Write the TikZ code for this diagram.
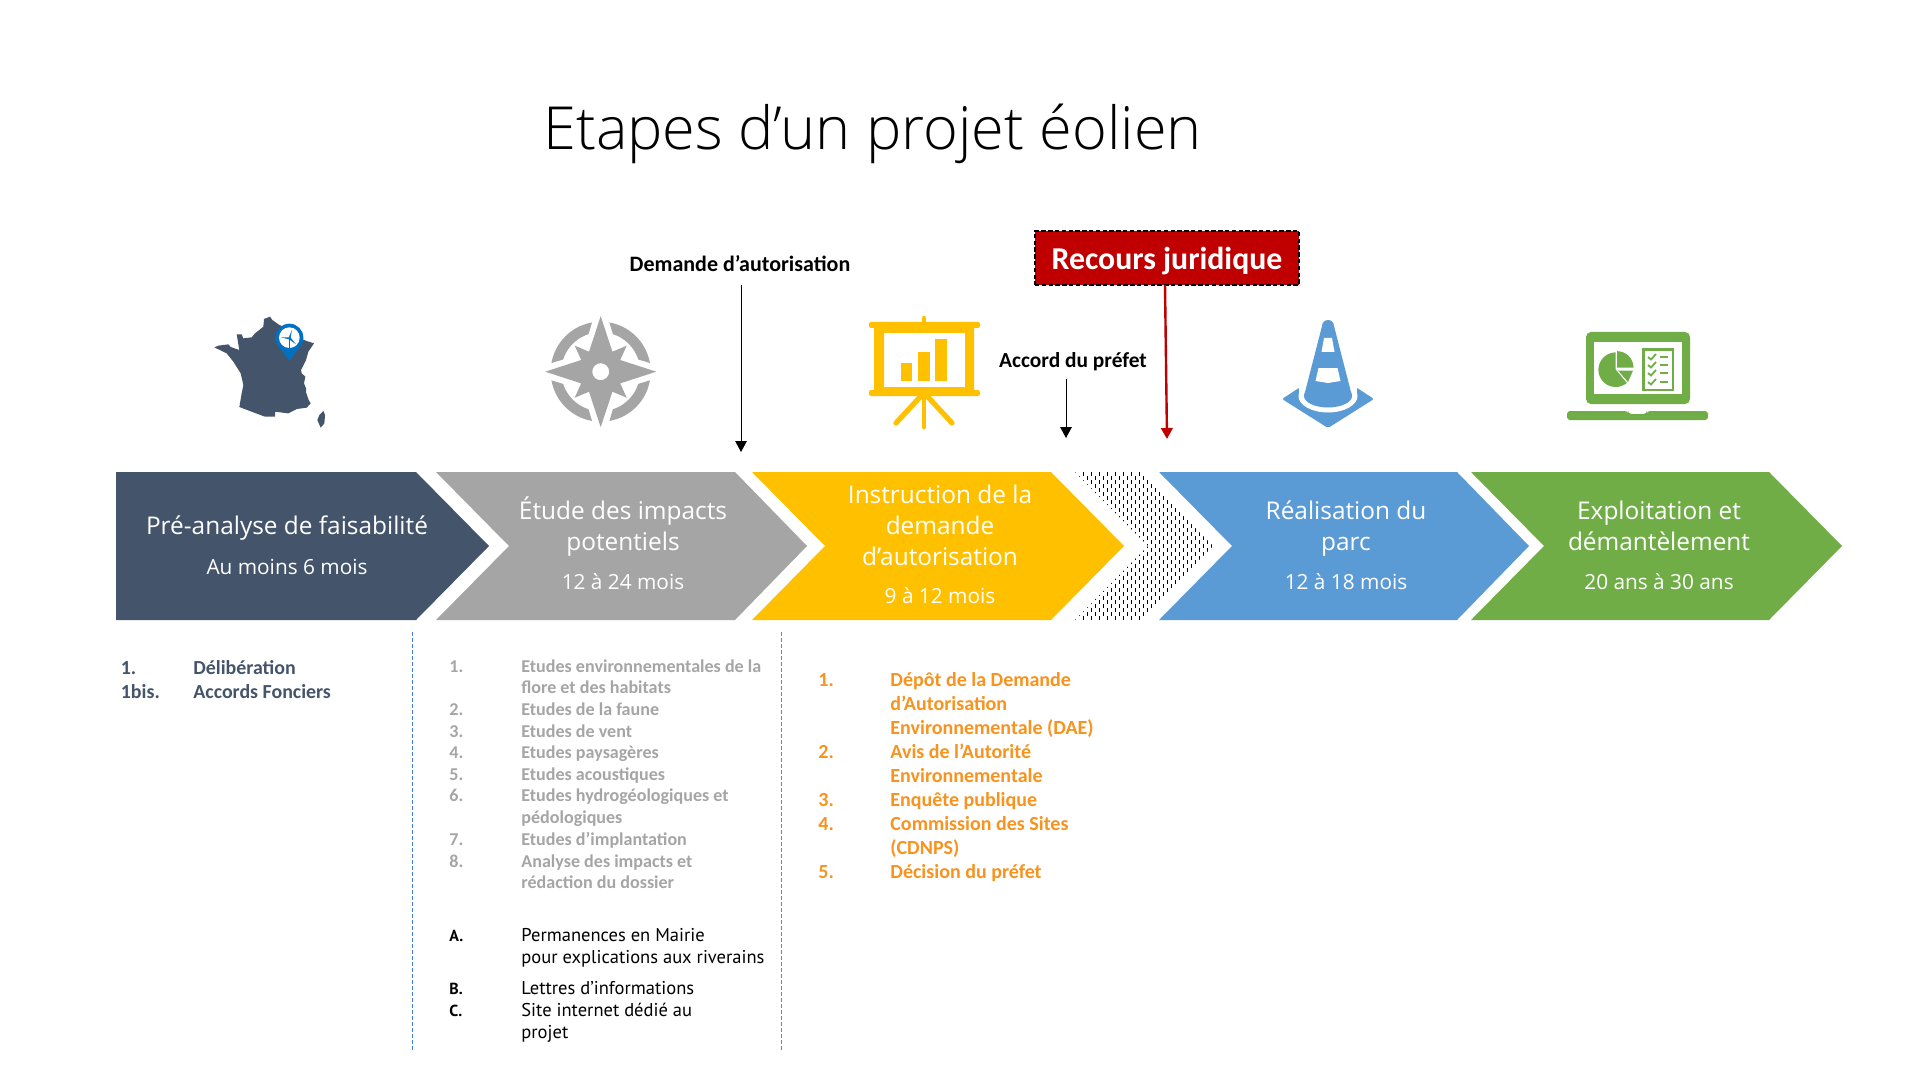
\documentclass[tikz,border=0pt]{standalone}
\usepackage{fontspec}
\setmainfont{Carlito}
\newfontfamily\uifont{Open Sans}
\newfontfamily\titlefont{Open Sans Light}
\newfontfamily\dinfont{PT Sans}
\definecolor{cdark}{HTML}{44546A}
\definecolor{cgray}{HTML}{A5A5A5}
\definecolor{cyel}{HTML}{FFC000}
\definecolor{cblue}{HTML}{5B9BD5}
\definecolor{cgreen}{HTML}{70AD47}
\definecolor{cred}{HTML}{C00000}
\definecolor{corange}{HTML}{F7931E}
\definecolor{cpin}{HTML}{0070C0}
\definecolor{cdash}{HTML}{3F7FDF}
\definecolor{cdashg}{HTML}{6E9E30}
\newcommand{\fs}[1]{\fontsize{#1}{#1}\selectfont}
\usetikzlibrary{arrows.meta}
\tikzset{
  x=0.5pt,y=-0.5pt,
  chev/.style={draw=none,fill=#1},
  ctitle/.style={text=white,font=\uifont\fs{12.2},inner sep=0,anchor=base},
  csub/.style={text=white,font=\uifont\fs{10.4},inner sep=0,anchor=base},
  item/.style={inner sep=0,anchor=base west,font=\bfseries\fs{#1}},
  din/.style={inner sep=0,anchor=base west,font=\dinfont\fs{9.26},text=black},
  dinb/.style={inner sep=0,anchor=base west,font=\dinfont\bfseries\fs{8},text=black},
  note/.style={inner sep=0,anchor=base,font=\bfseries\fs{#1},text=black},
  marker/.style={-{Triangle[length=5.5pt,width=5.8pt]},draw=#1,fill=#1},
  sep/.style={draw=#1,line width=0.5pt,dash pattern=on 2pt off 1pt},
}
\begin{document}
\begin{tikzpicture}
\useasboundingbox (0,0) rectangle (1920,1080);
\fill[white] (0,0) rectangle (1920,1080);
% title
\node[inner sep=0,anchor=base,font=\titlefont\fs{29.7}] (title) at (872.5,150) {Etapes d’un projet éolien};
% chevrons
\fill[chev=cdark] (116,472)--(416,472)--(489,546)--(416,620)--(116,620)--cycle;
\fill[chev=cgray] (436,472)--(735,472)--(807,546)--(735,620)--(436,620)--(509,546)--cycle;
\fill[chev=cyel] (752,472)--(1051,472)--(1124,546)--(1051,620)--(752,620)--(825,546)--cycle;
\begin{scope}
\clip (1075,472)--(1140,472)--(1213,546)--(1140,620)--(1075,620)--(1148,546)--cycle;
\foreach \i in {0,...,18}{
 \draw[black,line width=0.55pt,dash pattern=on 1.65pt off 2.35pt] ({1075.3+\i*8},472.3)--({1075.3+\i*8},620);
 \draw[black,line width=0.55pt,dash pattern=on 1.65pt off 2.35pt] ({1079.3+\i*8},468.3)--({1079.3+\i*8},620);
}
\end{scope}
\fill[chev=cblue] (1159,472)--(1457,472)--(1529,546)--(1457,620)--(1159,620)--(1232,546)--cycle;
\fill[chev=cgreen] (1471,472)--(1769,472)--(1842,546)--(1769,620)--(1471,620)--(1544,546)--cycle;
% chevron text
\node[ctitle] (c1a) at (287,534) {Pré-analyse de faisabilité};
\node[csub] (c1b) at (287,574) {Au moins 6 mois};
\node[ctitle] (c2a) at (623,519) {Étude des impacts};
\node[ctitle] (c2b) at (623,550) {potentiels};
\node[csub] (c2c) at (623,589) {12 à 24 mois};
\node[ctitle] (c3a) at (940,503) {Instruction de la};
\node[ctitle] (c3b) at (940,534) {demande};
\node[ctitle] (c3c) at (940,565) {d’autorisation};
\node[csub] (c3d) at (940,603) {9 à 12 mois};
\node[ctitle] (c4a) at (1346,519) {Réalisation du};
\node[ctitle] (c4b) at (1346,550) {parc};
\node[csub] (c4c) at (1346,589) {12 à 18 mois};
\node[ctitle] (c5a) at (1659,519) {Exploitation et};
\node[ctitle] (c5b) at (1659,550) {démantèlement};
\node[csub] (c5c) at (1659,589) {20 ans à 30 ans};
% notes + arrows
\node[note=11] (dem) at (740,272) {Demande d’autorisation};
\coordinate (demS) at (741,285); \coordinate (demE) at (741,452);
\draw[marker=black,line width=0.45pt] (demS)--(demE);
\node[note=10.7] (acc) at (1073,367) {Accord du préfet};
\coordinate (accS) at (1066,379); \coordinate (accE) at (1066,438);
\draw[marker=black,line width=0.45pt] (accS)--(accE);
\node[draw=black,fill=cred,line width=1pt,dash pattern=on 2.2pt off 1.2pt,minimum width=132pt,minimum height=27pt,inner sep=0] (rec) at (1167,258) {};
\node[inner sep=0,anchor=base,text=white,font=\bfseries\fs{15.9}] (rectxt) at (1167,270) {Recours juridique};
\coordinate (recS) at (1165,285); \coordinate (recE) at (1167,439);
\draw[marker=cred,line width=1.2pt] (recS)--(recE);
% France icon
\begin{scope}[shift={(200,305)},x=0.1667pt,y=-0.1667pt]
\fill[cdark] (43,127)--(55,122)--(85,118)--(92,126)--(118,135)--(110,88)--(125,88)--(130,100)--(155,97)--(165,85)--(190,65)--(192,42)--(210,35)--(217,45)--(235,58)--(270,75)--(300,100)--(320,108)--(342,115)--(325,140)--(318,165)--(303,195)--(305,205)--(316,215)--(312,235)--(318,250)--(318,262)--(326,285)--(332,295)--(320,308)--(290,312)--(265,325)--(225,320)--(225,335)--(195,335)--(160,322)--(118,306)--(125,265)--(130,240)--(122,205)--(100,170)--(80,145)--cycle;
\fill[cdark] (370,318)--(375,330)--(373,355)--(362,368)--(352,345)--(358,330)--cycle;
\fill[cpin] (231,118)--(268,167)--(305,118)--cycle;
\fill[cpin] (268,98) circle[radius=42];
\fill[white] (268,98) circle[radius=31];
\draw[cpin,line width=0.5pt] (268,130)--(268,102);
\fill[cpin] (266,98)--(276,74)--(271,101)--cycle;
\fill[cpin] (270,97)--(242,97)--(268,103)--cycle;
\fill[cpin] (266,102)--(288,118)--(271,97)--cycle;
\end{scope}
% compass icon
\begin{scope}[shift={(600.7,371.7)}]
\fill[cgray,even odd rule]
 (0,-55.5)--(11.7,-20)--(26,-26)--(19.5,-11.7)--(55.5,0)--(19.5,11.7)--(26,26)--(11.7,20)--(0,55.5)--(-11.7,20)--(-26,26)--(-19.5,11.7)--(-55.5,0)--(-19.5,-11.7)--(-26,-26)--(-11.7,-20)--cycle
 (0,0) circle[radius=8.5];
\foreach \a in {0,90,180,270}{
 \begin{scope}[rotate=\a]
 \fill[cgray] plot[domain=-80:-10,samples=15] (\x:50) -- plot[domain=-18:-72,samples=15] (\x:39.5) -- cycle;
 \end{scope}
}
\end{scope}
% presentation icon
\fill[cyel,rounded corners=1pt] (869,322) rectangle (980,328);
\fill[cyel,rounded corners=1pt] (869,390) rectangle (980,396);
\fill[cyel,even odd rule] (874,326) rectangle (974,392) (884,333) rectangle (965,387);
\draw[cyel,line width=2.2pt,line cap=round] (924,318)--(924,324);
\draw[cyel,line width=2.4pt,line cap=round] (924,394)--(924,427);
\draw[cyel,line width=2.6pt,line cap=round] (921,396)--(896,423);
\draw[cyel,line width=2.6pt,line cap=round] (927,396)--(952,423);
\fill[cyel] (901,363) rectangle (912,381);
\fill[cyel] (918,352) rectangle (930,381);
\fill[cyel] (935,339) rectangle (947,381);
% cone icon
\fill[cblue,rounded corners=1pt] (1282,399)--(1302,386)--(1354,386)--(1374,399)--(1328,428)--cycle;
\fill[white] (1299,380) rectangle (1357,396);
\fill[white] (1328,396) ellipse[x radius=29.5,y radius=16.5];
\fill[cblue] (1328,326) circle[radius=6];
\fill[cblue] (1322,326)--(1334,326)--(1352,396)--(1304,396)--cycle;
\fill[cblue] (1328,396) ellipse[x radius=24,y radius=11.5];
\fill[white] (1324,338)--(1332,338)--(1334.5,352)--(1321.5,352)--cycle;
\fill[white] (1318.5,368)--(1337.5,368)--(1340.5,381)--(1328,383)--(1315.5,381)--cycle;
% laptop icon
\fill[cgreen,rounded corners=2.5pt] (1586,404)--(1586,332)--(1690,332)--(1690,404)--cycle;
\fill[white] (1594,342) rectangle (1682,394);
\fill[cgreen,rounded corners=1.5pt] (1567,411)--(1628,411)--(1628.5,414)--(1646.5,414)--(1647,411)--(1708,411)--(1708,420)--(1567,420)--cycle;
\fill[cgreen] (1615.7,369.7)--plot[domain=50:270,samples=30] ({1615.7+17.3*cos(\x)},{369.7+17.3*sin(\x)})--cycle;
\fill[cgreen] (1617,367.7)--plot[domain=270:360,samples=15] ({1617+16.5*cos(\x)},{367.7+16.5*sin(\x)})--cycle;
\fill[cgreen] (1618,370.5)--(1633,370.5)--(1628,382)--cycle;
\draw[cgreen,line width=1.2pt] (1643.5,349.5) rectangle (1673,390);
\foreach \yy in {357,365,373,382}{
 \draw[cgreen,line width=0.9pt] (1648,\yy)--(1651,{\yy+2.5})--(1656,{\yy-3});
 \fill[cgreen] (1660,{\yy-1}) rectangle (1668,{\yy+1});
}
% separators
\coordinate (s1a) at (412.5,632); \coordinate (s1b) at (412.5,1050);
\coordinate (s2a) at (781.5,632); \coordinate (s2b) at (781.5,1050);
\draw[sep=cdash] (s1a)--(s1b);
\draw[sep=cdashg] (s2a)--(s2b);
% list 1
\begin{scope}[every node/.append style={text=cdark}]
\node[item=9.95] (l1n1) at (120.5,674) {1.};
\node[item=9.95] (l1t1) at (193,674) {Délibération};
\node[item=9.95] (l1n2) at (120.5,698) {1bis.};
\node[item=9.95] (l1t2) at (193,698) {Accords Fonciers};
\end{scope}
% list 2
\begin{scope}[every node/.append style={text=cgray}]
\node[item=9.03] (l2n1) at (449,672) {1.};
\node[item=9.03] (l2t1) at (521,672) {Etudes environnementales de la};
\node[item=9.03] (l2t1b) at (521,693) {flore et des habitats};
\node[item=9.03] (l2n2) at (449,715) {2.};
\node[item=9.03] (l2t2) at (521,715) {Etudes de la faune};
\node[item=9.03] (l2n3) at (449,737) {3.};
\node[item=9.03] (l2t3) at (521,737) {Etudes de vent};
\node[item=9.03] (l2n4) at (449,758) {4.};
\node[item=9.03] (l2t4) at (521,758) {Etudes paysagères};
\node[item=9.03] (l2n5) at (449,780) {5.};
\node[item=9.03] (l2t5) at (521,780) {Etudes acoustiques};
\node[item=9.03] (l2n6) at (449,801) {6.};
\node[item=9.03] (l2t6) at (521,801) {Etudes hydrogéologiques et};
\node[item=9.03] (l2t6b) at (521,823) {pédologiques};
\node[item=9.03] (l2n7) at (449,845) {7.};
\node[item=9.03] (l2t7) at (521,845) {Etudes d’implantation};
\node[item=9.03] (l2n8) at (449,867) {8.};
\node[item=9.03] (l2t8) at (521,867) {Analyse des impacts et};
\node[item=9.03] (l2t8b) at (521,888) {rédaction du dossier};
\end{scope}
\node[dinb] (lan) at (449,941) {A.};
\node[din] (lat) at (521,941) {Permanences en Mairie};
\node[din] (latb) at (521,963) {pour explications aux riverains};
\node[dinb] (lbn) at (449,994) {B.};
\node[din] (lbt) at (521,994) {Lettres d’informations};
\node[dinb] (lcn) at (449,1016) {C.};
\node[din] (lct) at (521,1016) {Site internet dédié au};
\node[din] (lctb) at (521,1038) {projet};
% list 3
\begin{scope}[every node/.append style={text=corange}]
\node[item=10] (l3n1) at (818,686) {1.};
\node[item=10] (l3t1) at (890,686) {Dépôt de la Demande};
\node[item=10] (l3t1b) at (890,710) {d’Autorisation};
\node[item=10] (l3t1c) at (890,734) {Environnementale (DAE)};
\node[item=10] (l3n2) at (818,758) {2.};
\node[item=10] (l3t2) at (890,758) {Avis de l’Autorité};
\node[item=10] (l3t2b) at (890,782) {Environnementale};
\node[item=10] (l3n3) at (818,806) {3.};
\node[item=10] (l3t3) at (890,806) {Enquête publique};
\node[item=10] (l3n4) at (818,830) {4.};
\node[item=10] (l3t4) at (890,830) {Commission des Sites};
\node[item=10] (l3t4b) at (890,854) {(CDNPS)};
\node[item=10] (l3n5) at (818,878) {5.};
\node[item=10] (l3t5) at (890,878) {Décision du préfet};
\end{scope}
\end{tikzpicture}
\end{document}
